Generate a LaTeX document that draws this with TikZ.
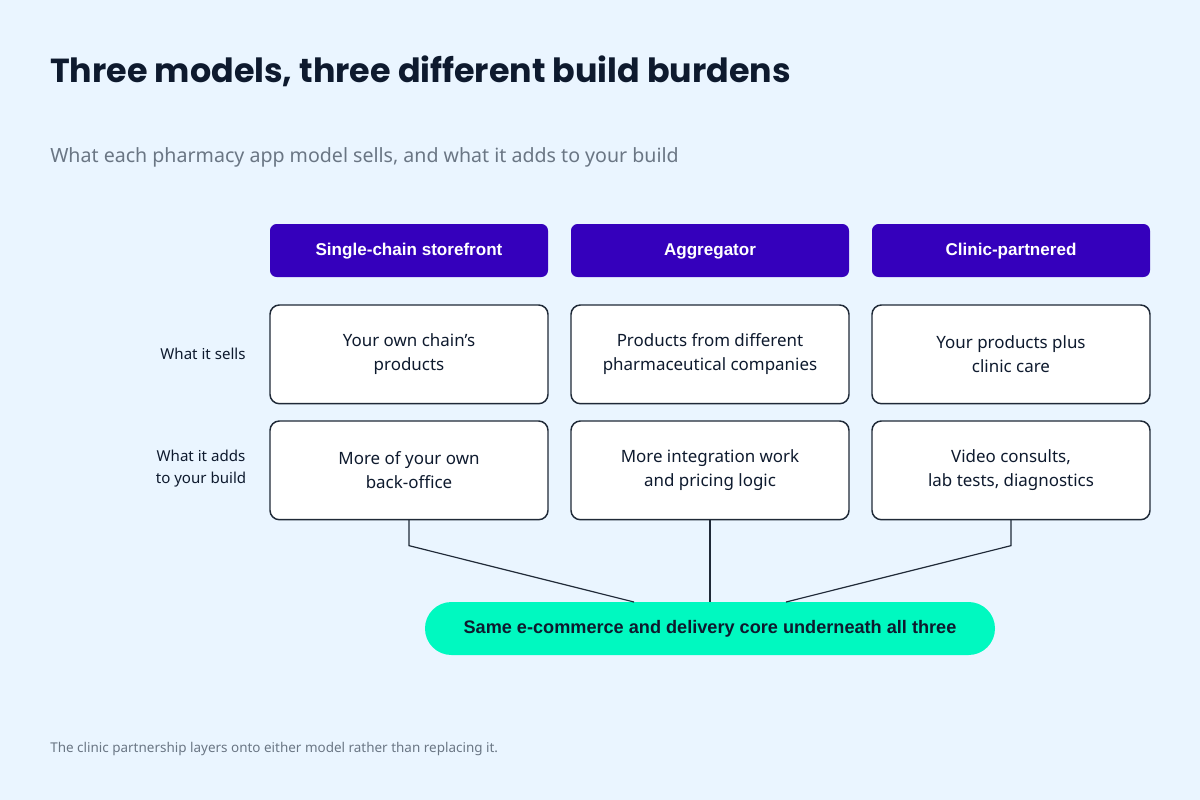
\documentclass[tikz,border=0pt]{standalone}
\usepackage{fontspec}
\setmainfont{Noto Sans}
\newfontfamily\headfont{Poppins}
\newfontfamily\strongfont{Liberation Sans}
\usetikzlibrary{positioning,calc}
\definecolor{pagebg}{HTML}{EAF5FF}
\definecolor{inkdark}{HTML}{0E1A2E}
\definecolor{inkgrey}{HTML}{6A7684}
\definecolor{modelviolet}{HTML}{3500BC}
\definecolor{coremint}{HTML}{00F9C0}
\definecolor{cellline}{HTML}{1F2937}

\begin{document}
\begin{tikzpicture}[
      x=0.75pt, y=-0.75pt,
      node distance=17.25pt,
      hdr/.style={rectangle, fill=modelviolet, rounded corners=5pt, minimum width=208.5pt,
                  minimum height=39.75pt, inner sep=0pt, outer sep=0pt, text=white,
                  text height=9pt, text depth=1.5pt,
                  font=\strongfont\fontsize{12.8}{15}\selectfont\bfseries},
      cell/.style={rectangle, draw=cellline, line width=1.1pt, rounded corners=7pt, fill=white,
                   minimum width=208.5pt, minimum height=74pt, inner sep=0pt, outer sep=0pt, align=center,
                   text=inkdark, font=\fontsize{12.7}{18}\selectfont},
      lbl/.style={align=center, text=inkdark, inner sep=0pt, font=\fontsize{11.3}{16.5}\selectfont},
      core/.style={rectangle, fill=coremint, rounded corners=19.8pt, minimum width=427.5pt,
                   minimum height=39.75pt, inner sep=0pt, outer sep=0pt, text=inkdark,
                   text height=9.5pt, text depth=1.5pt,
                   font=\strongfont\fontsize{13.6}{16}\selectfont\bfseries},
      link/.style={draw=cellline, line width=0.9pt},
    ]
    \fill[pagebg] (0,0) rectangle (1200,800);
    \useasboundingbox (0,0) rectangle (1200,800);

    \node[anchor=base west, inner sep=0pt, text=inkdark, font=\headfont\fontsize{25}{29}\selectfont\bfseries] (title) at (50,82)
      {Three models, three different build burdens};
    \node[anchor=base west, inner sep=0pt, text=inkgrey, font=\fontsize{14.7}{17}\selectfont] (sub) at (50,162)
      {What each pharmacy app model sells, and what it adds to your build};

    \node[hdr] (h1) at (409,250.5) {Single-chain storefront};
    \node[hdr, right=of h1] (h2) {Aggregator};
    \node[hdr, right=of h2] (h3) {Clinic-partnered};

    \node[cell, below=21pt of h1] (s1) {Your own chain’s\\products};
    \node[cell, below=21pt of h2] (s2) {Products from different\\pharmaceutical companies};
    \node[cell, below=21pt of h3] (s3) {Your products plus\\clinic care};

    \node[cell, below=13pt of s1] (b1) {More of your own\\back-office};
    \node[cell, below=13pt of s2] (b2) {More integration work\\and pricing logic};
    \node[cell, below=13pt of s3] (b3) {Video consults,\\lab tests, diagnostics};

    \node[lbl] (lsell) at (203,354) {What it sells};
    \node[lbl] (ladd) at (201,469) {What it adds\\to your build};

    \node[core] (core) at (710,628.5) {Same e-commerce and delivery core underneath all three};
    \coordinate (jl) at ($(core.north)+(-76,0)$);
    \coordinate (jr) at ($(core.north)+(76,0)$);

    \draw[link] (b1.south) -- ++(0,26) -- (jl);
    \draw[link] (b2.south) -- (core.north);
    \draw[link] (b3.south) -- ++(0,26) -- (jr);

    \node[anchor=base west, inner sep=0pt, text=inkgrey, font=\fontsize{10.1}{12}\selectfont] (note) at (50,752)
      {The clinic partnership layers onto either model rather than replacing it.};
  \end{tikzpicture}
\end{document}
